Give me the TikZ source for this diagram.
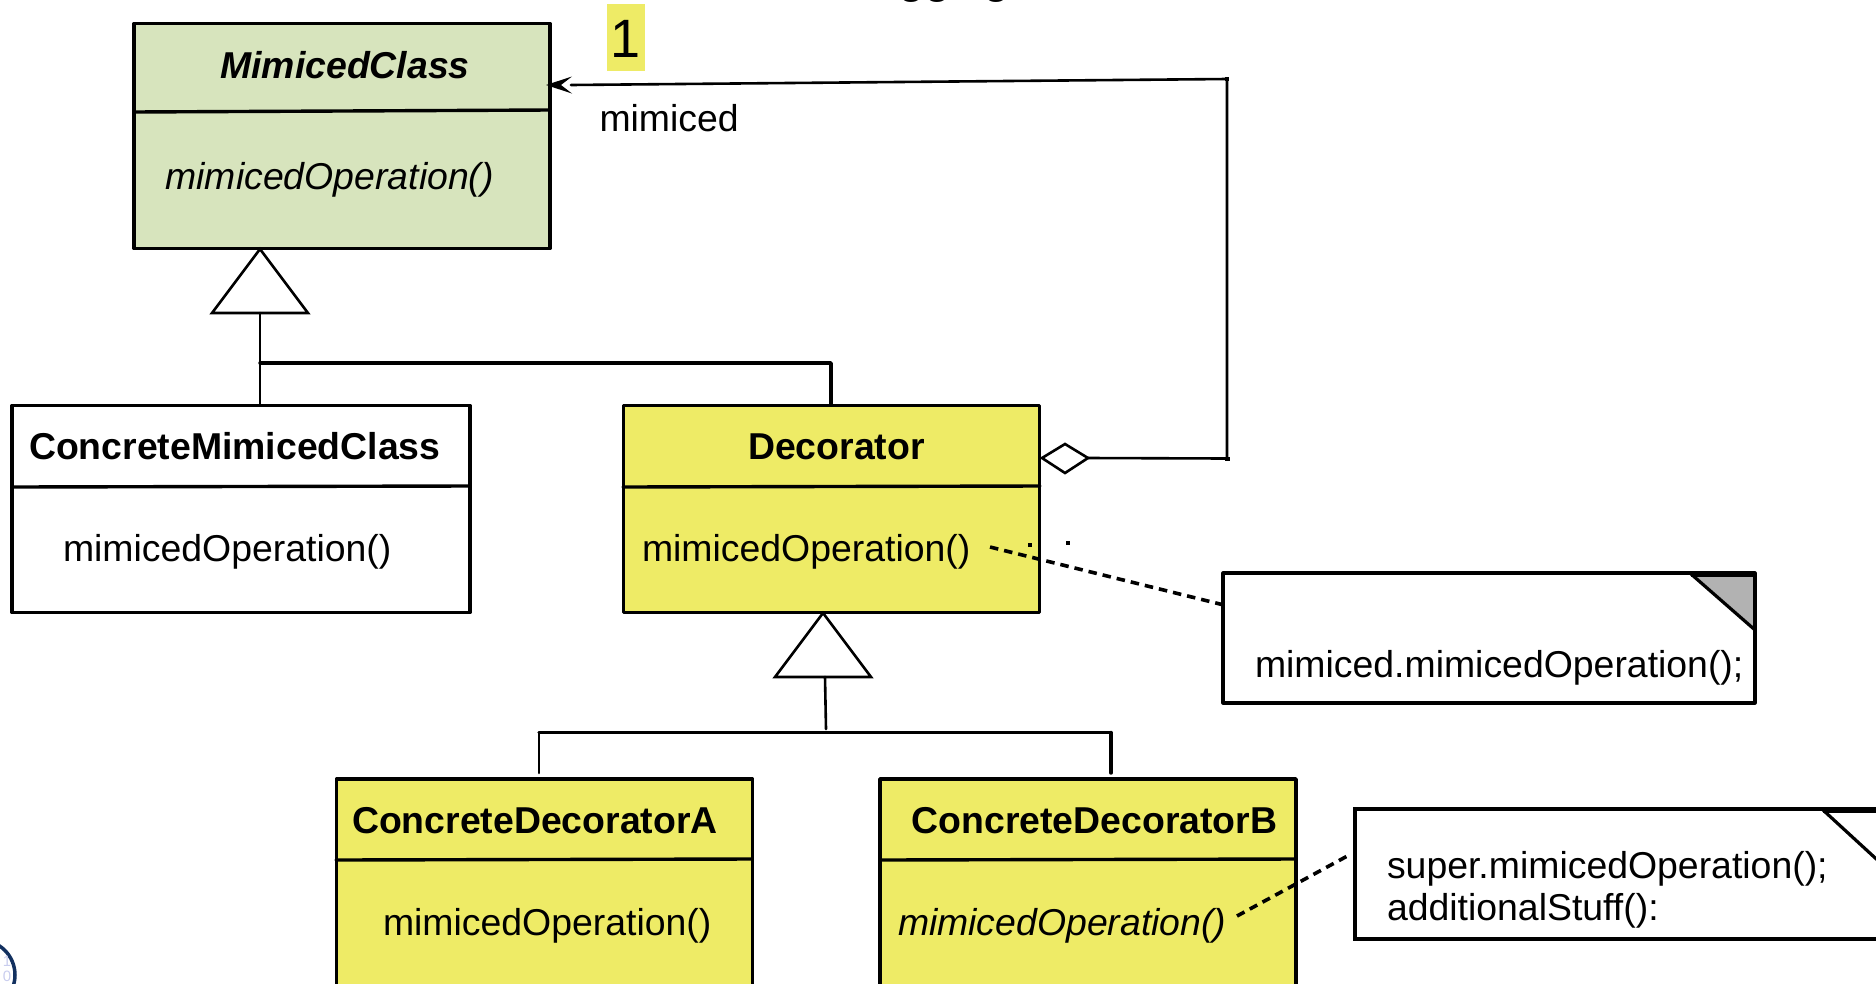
\documentclass[tikz,border=0pt]{standalone}
\usepackage{fontspec}
\setmainfont{Liberation Sans}
\definecolor{uyellow}{HTML}{EEEB66}
\definecolor{ugreen}{HTML}{D7E4BD}
\definecolor{ugrey}{HTML}{B2B2B2}
\definecolor{unavy}{HTML}{12305F}
\definecolor{ufaint}{HTML}{C9CDEE}
\newcommand{\ufs}{\fontsize{37.4}{41}\selectfont}
\tikzset{
  umlbox/.style={draw=black,line width=3.6pt,line join=round,rectangle,outer sep=0pt,inner sep=0pt,anchor=north west},
  txt/.style={anchor=base west,inner sep=0pt,outer sep=0pt,font=\ufs},
  txtc/.style={anchor=base,inner sep=0pt,outer sep=0pt,font=\ufs},
  thick line/.style={line width=3.4pt,line cap=round,line join=round},
  thin line/.style={line width=2.6pt,line cap=round,line join=round},
  tri/.style={draw=black,fill=white,line width=2.6pt,line join=miter},
  dashline/.style={line width=3.6pt,dash pattern=on 8.5pt off 6pt}
}
\begin{document}
\begin{tikzpicture}[x=1pt,y=-1pt]
\useasboundingbox (0,0) rectangle (1876,983);
\clip (0,0) rectangle (1876,983);

% logo fragment
\draw[unavy,line width=3.5pt] (-20,975) circle (35);
\node[inner sep=0pt,text=ufaint,font=\fontsize{15}{15}\selectfont] (logoa) at (7,961) {1};
\node[inner sep=0pt,text=ufaint,font=\fontsize{15}{15}\selectfont] (logob) at (7,976) {0};

% boxes
\node[umlbox,fill=ugreen,minimum width=416pt,minimum height=225pt] (mc) at (134,23.5) {};
\node[umlbox,fill=white,minimum width=458pt,minimum height=207pt] (cmc) at (12,405.5) {};
\node[umlbox,fill=uyellow,minimum width=416pt,minimum height=207pt] (dec) at (623.5,405.5) {};
\node[umlbox,fill=uyellow,minimum width=416pt,minimum height=208pt] (cda) at (336.5,779) {};
\node[umlbox,fill=uyellow,minimum width=416pt,minimum height=208pt] (cdb) at (880,779) {};

% dividers
\draw[thick line] (134,112) coordinate (mcl) -- (550,110) coordinate (mcr);
\draw[thick line] (12,487) coordinate (cmcl) -- (470,486) coordinate (cmcr);
\draw[thick line] (623,487) coordinate (decl) -- (1040,486) coordinate (decr);
\draw[thick line] (336,860) coordinate (cdal) -- (752,859) coordinate (cdar);
\draw[thick line] (880,860) coordinate (cdbl) -- (1296,859) coordinate (cdbr);

% notes
\fill[white] (1223,573) rectangle (1755,703);
\coordinate (n1a) at (1691,574);
\coordinate (n1b) at (1755,630);
\fill[ugrey] (n1a) -- (1755,574) -- (n1b) -- cycle;
\node[inner sep=0pt,outer sep=0pt,minimum width=532pt,minimum height=130pt,anchor=north west,draw,line width=3.2pt,line join=round] (note1) at (1223,573) {};
\draw[line width=3.2pt] (n1a) -- (n1b);
\draw[line width=5pt] (n1a) -- (1755,574);
\node[inner sep=0pt,outer sep=0pt,minimum width=560pt,minimum height=130pt,anchor=north west,draw,line width=3.2pt] (note2) at (1355,809) {};
\coordinate (n2a) at (1823,810);
\coordinate (n2b) at (1885,867);
\draw[line width=3.2pt] (n2a) -- (n2b);
\draw[line width=5pt] (n2a) -- (1885,810);

% generalisation 1
\coordinate (t1a) at (260,249);
\coordinate (t1l) at (212,313);
\coordinate (t1r) at (308,313);
\coordinate (t1b) at (260,313);
\coordinate (j1) at (260,363);
\coordinate (j1r) at (831,363);
\coordinate (cmctop) at (260,404);
\coordinate (dectop) at (831,404);
\draw[tri] (t1a) -- (t1r) -- (t1l) -- cycle;
\draw[thin line] (t1b) -- (cmctop);
\draw[thick line] (j1) -- (j1r) -- (dectop);

% generalisation 2
\coordinate (t2a) at (823,613);
\coordinate (t2l) at (775,677);
\coordinate (t2r) at (871,677);
\coordinate (t2b) at (825,677);
\coordinate (j2) at (826,729);
\coordinate (j2l) at (539,732.5);
\coordinate (j2r) at (1111,732.5);
\coordinate (cdatop) at (539,773);
\coordinate (cdbtop) at (1111,773);
\draw[tri] (t2a) -- (t2r) -- (t2l) -- cycle;
\draw[thin line] (t2b) -- (j2);
\draw[thin line] (cdatop) -- (j2l);
\draw[thick line] (j2l) -- (j2r);
\draw[thick line] (j2r) -- (cdbtop);

% aggregation
\coordinate (dl) at (1042,458);
\coordinate (dt) at (1065,444);
\coordinate (dr) at (1088,458);
\coordinate (db) at (1065,473);
\draw[tri] (dl) -- (dt) -- (dr) -- (db) -- cycle;
\coordinate (c1) at (1227,458.5);
\coordinate (c2) at (1227,79);
\coordinate (c3) at (571,85);
\draw[thin line] (dr) -- (c1) -- (c2) -- (c3);
\fill[black] (546,85) -- (572,76.5) -- (561,85) -- (572,93.5) -- cycle;
\fill (1225,456.5) rectangle (1230,460.5);
\fill (1225,77) rectangle (1229,81);

% dashed
\coordinate (da1) at (990,547);
\coordinate (da2) at (1228,606);
\coordinate (db1) at (1237,916);
\coordinate (db2) at (1351,854);
\draw[dashline] (da1) -- (da2);
\draw[dashline] (db1) -- (db2);
\fill (1028,543) rectangle (1032,547);
\fill (1066,541) rectangle (1070,545);

% highlight
\node[fill=uyellow,inner sep=0pt,outer sep=0pt,anchor=north west,minimum width=38pt,minimum height=67pt] (hl) at (607,4) {};
\node[anchor=base,inner sep=0pt,font=\fontsize{54}{54}\selectfont] (one) at (626,57) {1};

% texts
\node[txtc,font=\ufs\bfseries\itshape] (t1) at (345,78) {MimicedClass};
\node[txt,font=\ufs\itshape] (t2) at (165.5,189) {mimicedOperation()};
\node[txt] (t3) at (599.5,131) {mimiced};
\node[txt,font=\ufs\bfseries] (t4) at (29,459.5) {ConcreteMimicedClass};
\node[txt] (t5) at (63,561.5) {mimicedOperation()};
\node[txtc,font=\ufs\bfseries] (t6) at (836.5,459.5) {Decorator};
\node[txt] (t7) at (642,561.5) {mimicedOperation()};
\node[txt] (t8) at (1255,677.5) {mimiced.mimicedOperation();};
\node[txt,font=\ufs\bfseries] (t9) at (352,833) {ConcreteDecoratorA};
\node[txt] (t10) at (383,935) {mimicedOperation()};
\node[txt,font=\ufs\bfseries] (t11) at (911.5,833) {ConcreteDecoratorB};
\node[txt,font=\ufs\itshape] (t12) at (898,935) {mimicedOperation()};
\node[txt] (t13) at (1387,878) {super.mimicedOperation();};
\node[txt] (t14) at (1387,920) {additionalStuff():};

% cropped title descenders
\begin{scope}
\clip (860,0) rectangle (1060,5);
\node[anchor=base west,inner sep=0pt,font=\fontsize{48}{48}\selectfont] (title) at (898,-8) {gg\hspace{32pt}g};
\end{scope}
\end{tikzpicture}
\end{document}
